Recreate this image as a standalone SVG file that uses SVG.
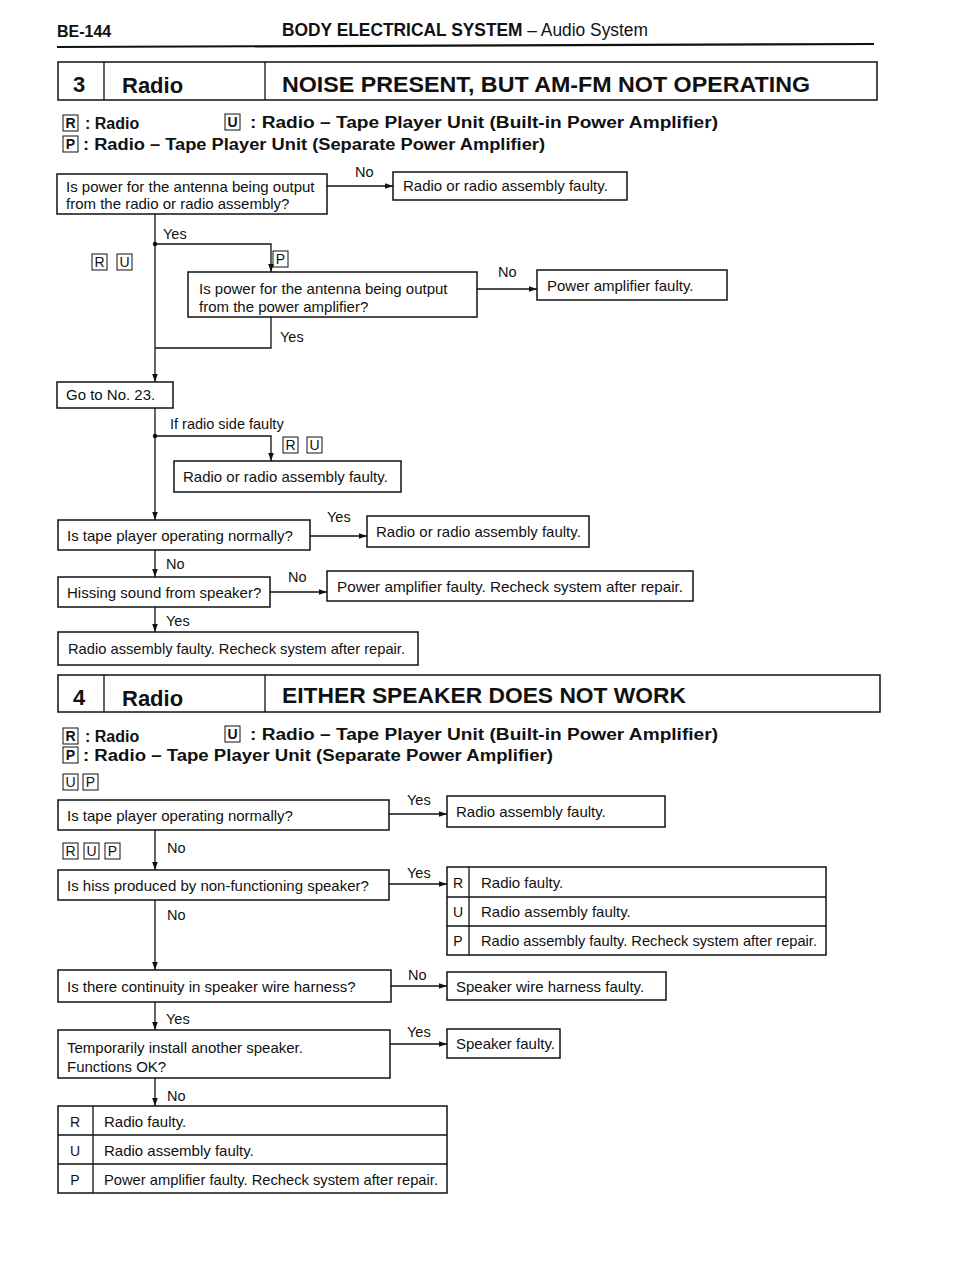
<svg xmlns="http://www.w3.org/2000/svg" width="960" height="1280" viewBox="0 0 960 1280">
<defs>
<marker id="arr" viewBox="0 0 10 10" refX="10" refY="5" markerWidth="8" markerHeight="8" markerUnits="userSpaceOnUse" orient="auto">
<path d="M0,1.5 L10,5 L0,8.5 Z" fill="#111"/>
</marker>
</defs>
<style>
text{font-family:"Liberation Sans",Arial,sans-serif;fill:#111}
.t{font-size:15px}
.lb{font-size:14.5px}
.h{font-size:22px;font-weight:bold}
.lg{font-size:16px;font-weight:bold}
.bx{fill:#fff;stroke:#111;stroke-width:1.5}
.ln{fill:none;stroke:#111;stroke-width:1.3}
.tag{fill:none;stroke:#111;stroke-width:1}
.tl{font-size:14px;text-anchor:middle}
</style>
<rect width="960" height="1280" fill="#fff"/>

<g id="page-header">
<text x="57" y="37" font-size="16" font-weight="bold">BE-144</text>
<text x="282" y="36" font-size="17.5" textLength="366" lengthAdjust="spacingAndGlyphs"><tspan font-weight="bold">BODY ELECTRICAL SYSTEM</tspan> – Audio System</text>
<line x1="57" y1="47" x2="874" y2="44" stroke="#111" stroke-width="2.2"/>
</g>

<!-- ===== Section 3 ===== -->
<g id="hdr3">
<rect x="58" y="62" width="819" height="38" class="bx"/>
<line x1="104" y1="62" x2="104" y2="100" class="ln"/>
<line x1="265" y1="62" x2="265" y2="100" class="ln"/>
<text x="73" y="92" class="h">3</text>
<text x="122" y="93" class="h">Radio</text>
<text x="282" y="92" class="h" textLength="528" lengthAdjust="spacingAndGlyphs">NOISE PRESENT, BUT AM-FM NOT OPERATING</text>
</g>
<g id="legend3">
<rect x="63" y="115" width="15" height="16" class="tag"/><text x="70.5" y="128" class="tl" font-weight="bold">R</text>
<text x="85" y="129" class="lg">: Radio</text>
<rect x="225" y="114" width="15" height="16" class="tag"/><text x="232.5" y="127" class="tl" font-weight="bold">U</text>
<text x="250" y="128" class="lg" textLength="468" lengthAdjust="spacingAndGlyphs">: Radio – Tape Player Unit (Built-in Power Amplifier)</text>
<rect x="63" y="136" width="15" height="16" class="tag"/><text x="70.5" y="149" class="tl" font-weight="bold">P</text>
<text x="83" y="150" class="lg" textLength="462" lengthAdjust="spacingAndGlyphs">: Radio – Tape Player Unit (Separate Power Amplifier)</text>
</g>

<g id="connectors">
<!-- section 3 -->
<polyline points="327,186 393,186" class="ln" marker-end="url(#arr)"/>
<line x1="155" y1="214" x2="155" y2="382" class="ln" marker-end="url(#arr)"/>
<polyline points="155,244 271,244 271,272" class="ln" marker-end="url(#arr)"/>
<polyline points="477,289 537,289" class="ln" marker-end="url(#arr)"/>
<polyline points="271,317 271,348 155,348" class="ln"/>
<line x1="155" y1="408" x2="155" y2="520" class="ln" marker-end="url(#arr)"/>
<polyline points="155,436 271,436 271,461" class="ln" marker-end="url(#arr)"/>
<polyline points="310,536 367,536" class="ln" marker-end="url(#arr)"/>
<line x1="155" y1="550" x2="155" y2="577" class="ln" marker-end="url(#arr)"/>
<polyline points="270,592 327,592" class="ln" marker-end="url(#arr)"/>
<line x1="155" y1="607" x2="155" y2="632" class="ln" marker-end="url(#arr)"/>
<circle cx="155" cy="244" r="2.2" fill="#111"/>
<circle cx="155" cy="436" r="2.2" fill="#111"/>
<!-- section 4 -->
<polyline points="389,814 447,814" class="ln" marker-end="url(#arr)"/>
<line x1="155" y1="830" x2="155" y2="870" class="ln" marker-end="url(#arr)"/>
<polyline points="389,884 447,884" class="ln" marker-end="url(#arr)"/>
<line x1="155" y1="900" x2="155" y2="970" class="ln" marker-end="url(#arr)"/>
<polyline points="391,986 447,986" class="ln" marker-end="url(#arr)"/>
<line x1="155" y1="1002" x2="155" y2="1030" class="ln" marker-end="url(#arr)"/>
<polyline points="390,1044 447,1044" class="ln" marker-end="url(#arr)"/>
<line x1="155" y1="1078" x2="155" y2="1106" class="ln" marker-end="url(#arr)"/>
</g>

<g id="labels">
<text x="355" y="177" class="lb">No</text>
<text x="163" y="239" class="lb">Yes</text>
<rect x="92" y="254" width="15" height="16" class="tag"/><text x="99.5" y="267" class="tl">R</text>
<rect x="117" y="254" width="15" height="16" class="tag"/><text x="124.5" y="267" class="tl">U</text>
<rect x="273" y="251" width="15" height="16" class="tag"/><text x="280.5" y="264" class="tl">P</text>
<text x="498" y="277" class="lb">No</text>
<text x="280" y="342" class="lb">Yes</text>
<text x="170" y="429" class="lb">If radio side faulty</text>
<rect x="283" y="437" width="15" height="16" class="tag"/><text x="290.5" y="450" class="tl">R</text>
<rect x="307" y="437" width="15" height="16" class="tag"/><text x="314.5" y="450" class="tl">U</text>
<text x="327" y="522" class="lb">Yes</text>
<text x="166" y="569" class="lb">No</text>
<text x="288" y="582" class="lb">No</text>
<text x="166" y="626" class="lb">Yes</text>

<rect x="63" y="774" width="15" height="16" class="tag"/><text x="70.5" y="787" class="tl">U</text>
<rect x="83" y="774" width="15" height="16" class="tag"/><text x="90.5" y="787" class="tl">P</text>
<text x="407" y="805" class="lb">Yes</text>
<rect x="63" y="843" width="15" height="16" class="tag"/><text x="70.5" y="856" class="tl">R</text>
<rect x="84" y="843" width="15" height="16" class="tag"/><text x="91.5" y="856" class="tl">U</text>
<rect x="105" y="843" width="15" height="16" class="tag"/><text x="112.5" y="856" class="tl">P</text>
<text x="167" y="853" class="lb">No</text>
<text x="407" y="878" class="lb">Yes</text>
<text x="167" y="920" class="lb">No</text>
<text x="408" y="980" class="lb">No</text>
<text x="166" y="1024" class="lb">Yes</text>
<text x="407" y="1037" class="lb">Yes</text>
<text x="167" y="1101" class="lb">No</text>
</g>

<g id="n-q1">
<rect x="57" y="174" width="270" height="40" class="bx"/>
<text x="66" y="192" class="t">Is power for the antenna being output</text>
<text x="66" y="209" class="t">from the radio or radio assembly?</text>
</g>
<g id="n-r1">
<rect x="393" y="172" width="234" height="28" class="bx"/>
<text x="403" y="191" class="t">Radio or radio assembly faulty.</text>
</g>
<g id="n-q2">
<rect x="188" y="272" width="289" height="45" class="bx"/>
<text x="199" y="294" class="t">Is power for the antenna being output</text>
<text x="199" y="312" class="t">from the power amplifier?</text>
</g>
<g id="n-r2">
<rect x="537" y="270" width="190" height="30" class="bx"/>
<text x="547" y="291" class="t">Power amplifier faulty.</text>
</g>
<g id="n-goto">
<rect x="57" y="382" width="116" height="26" class="bx"/>
<text x="66" y="400" class="t">Go to No. 23.</text>
</g>
<g id="n-r3">
<rect x="174" y="461" width="227" height="31" class="bx"/>
<text x="183" y="482" class="t">Radio or radio assembly faulty.</text>
</g>
<g id="n-q3">
<rect x="58" y="520" width="252" height="30" class="bx"/>
<text x="67" y="541" class="t">Is tape player operating normally?</text>
</g>
<g id="n-r4">
<rect x="367" y="516" width="222" height="31" class="bx"/>
<text x="376" y="537" class="t">Radio or radio assembly faulty.</text>
</g>
<g id="n-q4">
<rect x="58" y="577" width="212" height="30" class="bx"/>
<text x="67" y="598" class="t">Hissing sound from speaker?</text>
</g>
<g id="n-r5">
<rect x="327" y="571" width="366" height="30" class="bx"/>
<text x="337" y="592" class="t" textLength="346" lengthAdjust="spacingAndGlyphs">Power amplifier faulty. Recheck system after repair.</text>
</g>
<g id="n-r6">
<rect x="58" y="632" width="360" height="33" class="bx"/>
<text x="68" y="654" class="t" textLength="337" lengthAdjust="spacingAndGlyphs">Radio assembly faulty. Recheck system after repair.</text>
</g>

<!-- ===== Section 4 ===== -->
<g id="hdr4">
<rect x="58" y="675" width="822" height="37" class="bx"/>
<line x1="104" y1="675" x2="104" y2="712" class="ln"/>
<line x1="265" y1="675" x2="265" y2="712" class="ln"/>
<text x="73" y="705" class="h">4</text>
<text x="122" y="706" class="h">Radio</text>
<text x="282" y="703" class="h" textLength="404" lengthAdjust="spacingAndGlyphs">EITHER SPEAKER DOES NOT WORK</text>
</g>
<g id="legend4">
<rect x="63" y="728" width="15" height="16" class="tag"/><text x="70.5" y="741" class="tl" font-weight="bold">R</text>
<text x="85" y="742" class="lg">: Radio</text>
<rect x="225" y="726" width="15" height="16" class="tag"/><text x="232.5" y="739" class="tl" font-weight="bold">U</text>
<text x="250" y="740" class="lg" textLength="468" lengthAdjust="spacingAndGlyphs">: Radio – Tape Player Unit (Built-in Power Amplifier)</text>
<rect x="63" y="747" width="15" height="16" class="tag"/><text x="70.5" y="760" class="tl" font-weight="bold">P</text>
<text x="83" y="761" class="lg" textLength="470" lengthAdjust="spacingAndGlyphs">: Radio – Tape Player Unit (Separate Power Amplifier)</text>
</g>

<g id="n-s1">
<rect x="58" y="800" width="331" height="30" class="bx"/>
<text x="67" y="821" class="t">Is tape player operating normally?</text>
</g>
<g id="n-s1r">
<rect x="447" y="796" width="218" height="31" class="bx"/>
<text x="456" y="817" class="t">Radio assembly faulty.</text>
</g>
<g id="n-s2">
<rect x="58" y="870" width="331" height="30" class="bx"/>
<text x="67" y="891" class="t">Is hiss produced by non-functioning speaker?</text>
</g>
<g id="n-s2r">
<rect x="447" y="867" width="379" height="88" class="bx"/>
<line x1="447" y1="897" x2="826" y2="897" class="ln"/>
<line x1="447" y1="926" x2="826" y2="926" class="ln"/>
<line x1="469" y1="867" x2="469" y2="955" class="ln"/>
<text x="458" y="888" class="tl">R</text>
<text x="458" y="917" class="tl">U</text>
<text x="458" y="946" class="tl">P</text>
<text x="481" y="888" class="t">Radio faulty.</text>
<text x="481" y="917" class="t">Radio assembly faulty.</text>
<text x="481" y="946" class="t" textLength="336" lengthAdjust="spacingAndGlyphs">Radio assembly faulty. Recheck system after repair.</text>
</g>
<g id="n-s3">
<rect x="58" y="970" width="333" height="32" class="bx"/>
<text x="67" y="992" class="t">Is there continuity in speaker wire harness?</text>
</g>
<g id="n-s3r">
<rect x="447" y="972" width="219" height="28" class="bx"/>
<text x="456" y="992" class="t">Speaker wire harness faulty.</text>
</g>
<g id="n-s4">
<rect x="58" y="1030" width="332" height="48" class="bx"/>
<text x="67" y="1053" class="t">Temporarily install another speaker.</text>
<text x="67" y="1072" class="t">Functions OK?</text>
</g>
<g id="n-s4r">
<rect x="447" y="1029" width="113" height="29" class="bx"/>
<text x="456" y="1049" class="t">Speaker faulty.</text>
</g>
<g id="n-s5">
<rect x="58" y="1106" width="389" height="87" class="bx"/>
<line x1="58" y1="1135" x2="447" y2="1135" class="ln"/>
<line x1="58" y1="1164" x2="447" y2="1164" class="ln"/>
<line x1="93" y1="1106" x2="93" y2="1193" class="ln"/>
<text x="75" y="1127" class="tl">R</text>
<text x="75" y="1156" class="tl">U</text>
<text x="75" y="1185" class="tl">P</text>
<text x="104" y="1127" class="t">Radio faulty.</text>
<text x="104" y="1156" class="t">Radio assembly faulty.</text>
<text x="104" y="1185" class="t" textLength="334" lengthAdjust="spacingAndGlyphs">Power amplifier faulty. Recheck system after repair.</text>
</g>
</svg>
